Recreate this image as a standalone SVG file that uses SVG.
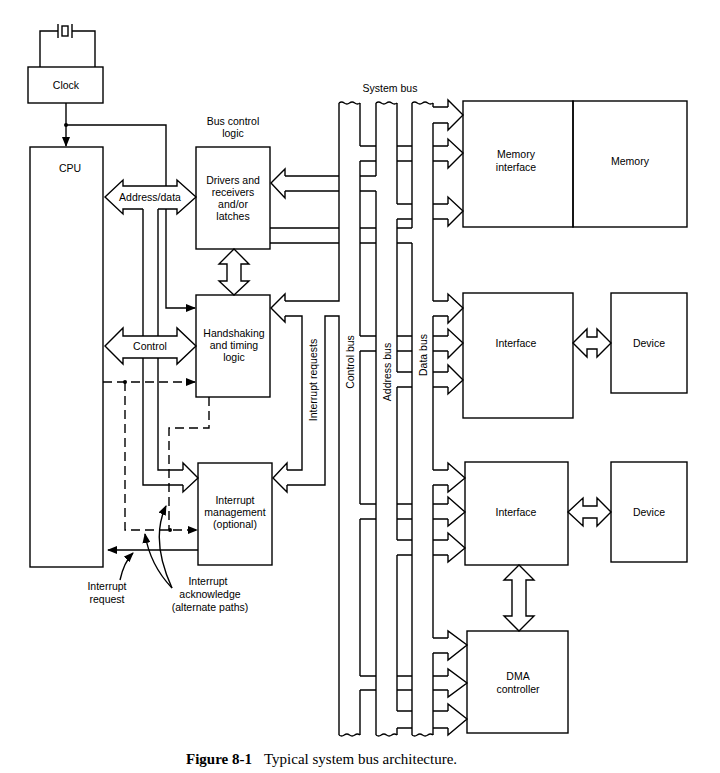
<svg xmlns="http://www.w3.org/2000/svg" width="720" height="773" viewBox="0 0 720 773">
<style>
.l{fill:none;stroke:#000;stroke-width:1.4}
.w{fill:#fff;stroke:#000;stroke-width:1.4}
.d{fill:none;stroke:#000;stroke-width:1.4;stroke-dasharray:9,5}
.t{font-family:"Liberation Sans",Arial,sans-serif;font-size:10.5px;text-anchor:middle;fill:#000}
.cap{font-family:"Liberation Serif","Times New Roman",serif;font-size:15px;fill:#000}
</style>
<defs>
<marker id="a" markerWidth="10" markerHeight="8" refX="9" refY="4" orient="auto" markerUnits="userSpaceOnUse"><path d="M0,0 L10,4 L0,8 Z" fill="#000"/></marker>
</defs>
<rect width="720" height="773" fill="#fff"/>
<g id="connectors">
<path class="l" d="M40,67 V31 H58 M58,24 V38 M72,24 V38 M72,31 H95 V67"/>
<rect class="l" x="62" y="26" width="6" height="10"/>
<path class="l" d="M66,103 V146" marker-end="url(#a)"/>
<circle cx="66" cy="125" r="2"/>
<path class="l" d="M66,125 H166 V308 H195" marker-end="url(#a)"/>
<path class="l" d="M143,209 V485 H183 M158,209 V470 H183"/>
<path class="l" d="M183,470 V463 L198,478 L183,492 V485"/>
<path class="d" d="M103,382 H195" marker-end="url(#a)"/>
<circle cx="125" cy="382" r="2"/>
<path class="d" d="M125,382 V530 H197" marker-end="url(#a)"/>
<circle cx="170" cy="530" r="2"/>
<path class="d" d="M209,397 V428 H169 V530"/>
<path class="l" d="M198,550 H108" marker-end="url(#a)"/>
<path class="l" d="M120,580 Q124,562 133,553" marker-end="url(#a)"/>
<path class="l" d="M172,588 Q150,565 145,534" marker-end="url(#a)"/>
<path class="l" d="M172,588 Q150,540 166,506" marker-end="url(#a)"/>
<path class="w" d="M234,249 L249,264 H241 V281 H249 L234,295 L219,281 H227 V264 H219 Z"/>
<path d="M105,197 L123,180 V186 H177 V180 L196,197 L177,214 V209 H123 V214 Z" fill="#fff"/>
<path class="l" d="M158,209 H177 V214 L196,197 L177,180 V186 H123 V180 L105,197 L123,214 V209 H143"/>
<path class="w" d="M105,346 L123,328 V336 H177 V328 L196,346 L177,364 V358 H123 V364 Z"/>
<path class="l" d="M339,103 V301 H285 M339,735 V316 H325 V485 H287 M285,316 H302 V470 H287"/>
<path class="l" d="M285,301 V294 L271,308 L285,322 V316"/>
<path class="l" d="M287,470 V463 L273,478 L287,492 V485"/>
<path class="l" d="M360,103 V146 M360,161 V336 M360,351 V504 M360,519 V676 M360,690 V735"/>
<path class="l" d="M376,103 V176 M376,191 V735"/>
<path class="l" d="M397,103 V204 M397,219 V372 M397,387 V540 M397,555 V711 M397,728 V735"/>
<path class="l" d="M412,103 V228 M412,243 V735"/>
<path class="l" d="M433,103 V107 M433,123 V301 M433,316 V470 M433,485 V638 M433,653 V735"/>
<path class="l" d="M339,103 q2.6,-2 5.25,0 t5.25,0 t5.25,0 t5.25,0 M376,103 q2.6,-2 5.25,0 t5.25,0 t5.25,0 t5.25,0 M412,103 q2.6,-2 5.25,0 t5.25,0 t5.25,0 t5.25,0"/>
<path class="l" d="M339,735 q2.6,2 5.25,0 t5.25,0 t5.25,0 t5.25,0 M376,735 q2.6,2 5.25,0 t5.25,0 t5.25,0 t5.25,0 M412,735 q2.6,2 5.25,0 t5.25,0 t5.25,0 t5.25,0"/>
<path class="l" d="M285,176 H339 M285,191 H339 M360,176 H376 M360,191 H376"/>
<path class="l" d="M285,176 V169 L271,183 L285,198 V191"/>
<path class="l" d="M270,228 H339 M270,243 H339 M360,228 H376 M360,243 H376 M397,228 H412 M397,243 H412"/>
<path class="l" d="M360,146 H376 M360,161 H376 M397,146 H412 M397,161 H412 M433,146 H448 M433,161 H448"/>
<path class="l" d="M360,336 H376 M360,351 H376 M397,336 H412 M397,351 H412 M433,336 H448 M433,351 H448"/>
<path class="l" d="M360,504 H376 M360,519 H376 M397,504 H412 M397,519 H412 M433,504 H448 M433,519 H448"/>
<path class="l" d="M360,676 H376 M360,690 H376 M397,676 H412 M397,690 H412 M433,676 H448 M433,690 H448"/>
<path class="l" d="M397,204 H412 M397,219 H412 M433,204 H448 M433,219 H448"/>
<path class="l" d="M397,372 H412 M397,387 H412 M433,372 H448 M433,387 H448"/>
<path class="l" d="M397,540 H412 M397,555 H412 M433,540 H448 M433,555 H448"/>
<path class="l" d="M397,711 H412 M397,728 H412 M433,711 H448 M433,728 H448"/>
<path class="l" d="M433,107 H448 M433,123 H448 M433,301 H448 M433,316 H448 M433,470 H448 M433,485 H448 M433,638 H448 M433,653 H448"/>
<path class="l" d="M448,107 V100 L463,115 L448,130 V123 M448,146 V139 L463,153 L448,168 V161 M448,204 V197 L463,211 L448,226 V219"/>
<path class="l" d="M448,301 V294 L463,308 L448,323 V316 M448,336 V329 L463,343 L448,358 V351 M448,372 V365 L463,380 L448,394 V387"/>
<path class="l" d="M448,470 V463 L465,478 L448,492 V485 M448,504 V497 L465,512 L448,526 V519 M448,540 V533 L465,548 L448,562 V555"/>
<path class="l" d="M448,638 V631 L467,645 L448,660 V653 M448,676 V669 L467,683 L448,697 V690 M448,711 V704 L467,719 L448,735 V728"/>
<path class="w" d="M573,343 L587,329 V337 H597 V329 L611,343 L597,357 V349 H587 V357 Z"/>
<path class="w" d="M568,512 L583,498 V506 H597 V498 L611,512 L597,526 V518 H583 V526 Z"/>
<path class="w" d="M519,565 L534,580 H526 V616 H534 L519,631 L504,616 H512 V580 H504 Z"/>
</g>
<g id="clock"><rect class="w" x="28" y="67" width="75" height="36"/><text class="t" x="66" y="89">Clock</text></g>
<g id="cpu"><rect class="l" x="30" y="147" width="73" height="420"/><text class="t" x="70" y="172">CPU</text></g>
<g id="drivers"><rect class="l" x="196" y="147" width="74" height="102"/>
<text class="t" x="233" y="184">Drivers and</text><text class="t" x="233" y="196">receivers</text><text class="t" x="233" y="208">and/or</text><text class="t" x="233" y="220">latches</text></g>
<g id="handshaking"><rect class="l" x="196" y="295" width="74" height="102"/>
<text class="t" x="234" y="337">Handshaking</text><text class="t" x="234" y="349">and timing</text><text class="t" x="234" y="361">logic</text></g>
<g id="intmgmt"><rect class="l" x="198" y="463" width="74" height="102"/>
<text class="t" x="235" y="504">Interrupt</text><text class="t" x="235" y="516">management</text><text class="t" x="235" y="528">(optional)</text></g>
<g id="meminterface"><rect class="l" x="463" y="101" width="110" height="126"/><text class="t" x="516" y="158">Memory</text><text class="t" x="516" y="171">interface</text></g>
<g id="memory"><rect class="l" x="573" y="101" width="114" height="126"/><text class="t" x="630" y="165">Memory</text></g>
<g id="interface1"><rect class="l" x="463" y="293" width="110" height="125"/><text class="t" x="516" y="347">Interface</text></g>
<g id="device1"><rect class="l" x="611" y="293" width="76" height="100"/><text class="t" x="649" y="347">Device</text></g>
<g id="interface2"><rect class="l" x="465" y="462" width="103" height="103"/><text class="t" x="516" y="516">Interface</text></g>
<g id="device2"><rect class="l" x="611" y="462" width="76" height="100"/><text class="t" x="649" y="516">Device</text></g>
<g id="dma"><rect class="l" x="467" y="631" width="101" height="102"/><text class="t" x="518" y="680">DMA</text><text class="t" x="518" y="693">controller</text></g>
<g id="labels">
<text class="t" x="150" y="201">Address/data</text>
<text class="t" x="150" y="350">Control</text>
<text class="t" x="233" y="125">Bus control</text><text class="t" x="233" y="137">logic</text>
<text class="t" x="390" y="92">System bus</text>
<text class="t" transform="translate(317,380) rotate(-90)">Interrupt requests</text>
<text class="t" transform="translate(354,362) rotate(-90)">Control bus</text>
<text class="t" transform="translate(391,372) rotate(-90)">Address bus</text>
<text class="t" transform="translate(427,355) rotate(-90)">Data bus</text>
<text class="t" x="107" y="590">Interrupt</text><text class="t" x="107" y="603">request</text>
<text class="t" x="208" y="585">Interrupt</text><text class="t" x="210" y="598">acknowledge</text><text class="t" x="210" y="611">(alternate paths)</text>
<text class="cap" x="186" y="764" font-weight="bold">Figure 8-1</text>
<text class="cap" x="264" y="764">Typical system bus architecture.</text>
</g>
</svg>
